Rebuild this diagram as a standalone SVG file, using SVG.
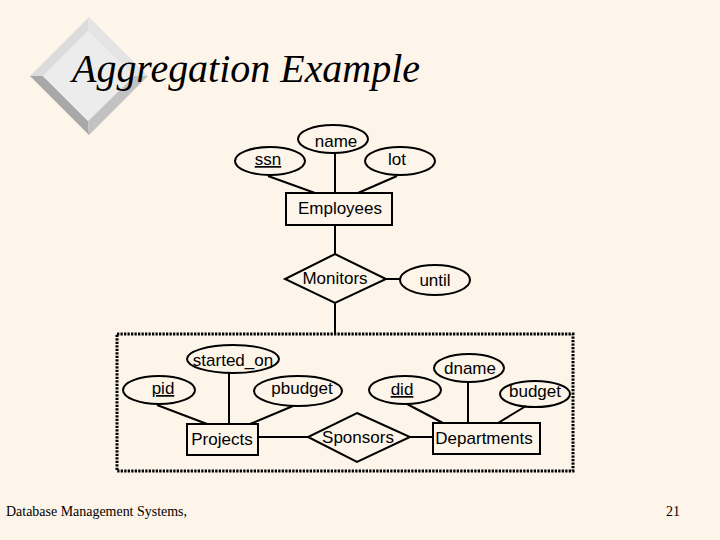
<svg xmlns="http://www.w3.org/2000/svg" width="720" height="540" viewBox="0 0 720 540">
<style>
.ent{fill:none;stroke:#000;stroke-width:2}
.att{fill:none;stroke:#000;stroke-width:2}
.rel{fill:none;stroke:#000;stroke-width:2}
.ln{stroke:#000;stroke-width:2;fill:none}
.t{font-family:"Liberation Sans",Arial,sans-serif;font-size:17px;fill:#000;text-anchor:middle}
.u{text-decoration:underline}
</style>
<rect width="720" height="540" fill="#fef5ea"/>
<g id="logo">
<polygon points="89,17 30,76 43,76 88,31" fill="#dcdcdc"/>
<polygon points="89,17 148,76 134,76 88,31" fill="#e4e4e4"/>
<polygon points="30,76 89,135 88,121 43,76" fill="#a9a9a9"/>
<polygon points="148,76 89,135 88,121 134,76" fill="#c2c2c2"/>
<polygon points="88,31 134,76 88,121 43,76" fill="#ececec"/>
</g>
<text x="72" y="82" font-family="'Liberation Serif','Times New Roman',serif" font-style="italic" font-size="40" fill="#000" textLength="348" lengthAdjust="spacingAndGlyphs">Aggregation Example</text>
<g id="connectors">
<line class="ln" x1="268" y1="176" x2="315" y2="193"/>
<line class="ln" x1="335" y1="153" x2="335" y2="193"/>
<line class="ln" x1="397" y1="176" x2="358" y2="193"/>
<line class="ln" x1="335" y1="225" x2="335" y2="254"/>
<line class="ln" x1="386" y1="279" x2="400" y2="279"/>
<line class="ln" x1="335" y1="303" x2="335" y2="334"/>
<line class="ln" x1="157" y1="405" x2="207" y2="424"/>
<line class="ln" x1="229" y1="373" x2="229" y2="424"/>
<line class="ln" x1="293" y1="406" x2="250" y2="424"/>
<line class="ln" x1="258" y1="437" x2="308" y2="437"/>
<line class="ln" x1="410" y1="437" x2="433" y2="437"/>
<line class="ln" x1="407" y1="404" x2="443" y2="423"/>
<line class="ln" x1="468" y1="382" x2="468" y2="423"/>
<line class="ln" x1="526" y1="406" x2="498" y2="423"/>
</g>
<g id="aggregation">
<rect x="117" y="334" width="456" height="137" fill="none" stroke="#000" stroke-width="3" stroke-dasharray="2.3 1.2"/>
</g>
<g id="name"><ellipse class="att" cx="333" cy="139" rx="35" ry="14"/><text class="t" x="336" y="147">name</text></g>
<g id="ssn"><ellipse class="att" cx="270" cy="161" rx="35" ry="14"/><text class="t u" x="268" y="165">ssn</text></g>
<g id="lot"><ellipse class="att" cx="400" cy="161" rx="35" ry="14"/><text class="t" x="397" y="165">lot</text></g>
<g id="employees"><rect class="ent" x="286" y="193" width="106" height="32"/><text class="t" x="340" y="214">Employees</text></g>
<g id="monitors"><polygon class="rel" points="335,254 386,279 335,303 285,279"/><text class="t" x="335" y="284">Monitors</text></g>
<g id="until"><ellipse class="att" cx="435" cy="280" rx="35" ry="15"/><text class="t" x="435" y="286">until</text></g>
<g id="started_on"><ellipse class="att" cx="233" cy="359" rx="46" ry="14"/><text class="t" x="233" y="366">started_on</text></g>
<g id="pid"><ellipse class="att" cx="159" cy="390" rx="36" ry="14"/><text class="t u" x="163" y="394">pid</text></g>
<g id="pbudget"><ellipse class="att" cx="298" cy="391" rx="44" ry="15"/><text class="t" x="302" y="394">pbudget</text></g>
<g id="projects"><rect class="ent" x="187" y="424" width="71" height="31"/><text class="t" x="222" y="445">Projects</text></g>
<g id="sponsors"><polygon class="rel" points="357,413 410,437 357,462 308,437"/><text class="t" x="358" y="443">Sponsors</text></g>
<g id="did"><ellipse class="att" cx="405" cy="390" rx="36" ry="14"/><text class="t u" x="402" y="395">did</text></g>
<g id="dname"><ellipse class="att" cx="469" cy="368" rx="35" ry="14"/><text class="t" x="470" y="374">dname</text></g>
<g id="budget"><ellipse class="att" cx="535" cy="394" rx="35" ry="13"/><text class="t" x="535" y="397">budget</text></g>
<g id="departments"><rect class="ent" x="433" y="423" width="107" height="31"/><text class="t" x="484" y="444">Departments</text></g>
<text x="6" y="516" font-family="'Liberation Serif','Times New Roman',serif" font-size="14" fill="#000" textLength="181" lengthAdjust="spacingAndGlyphs">Database Management Systems,</text>
<text x="666" y="516" font-family="'Liberation Serif','Times New Roman',serif" font-size="14" fill="#000">21</text>
</svg>
